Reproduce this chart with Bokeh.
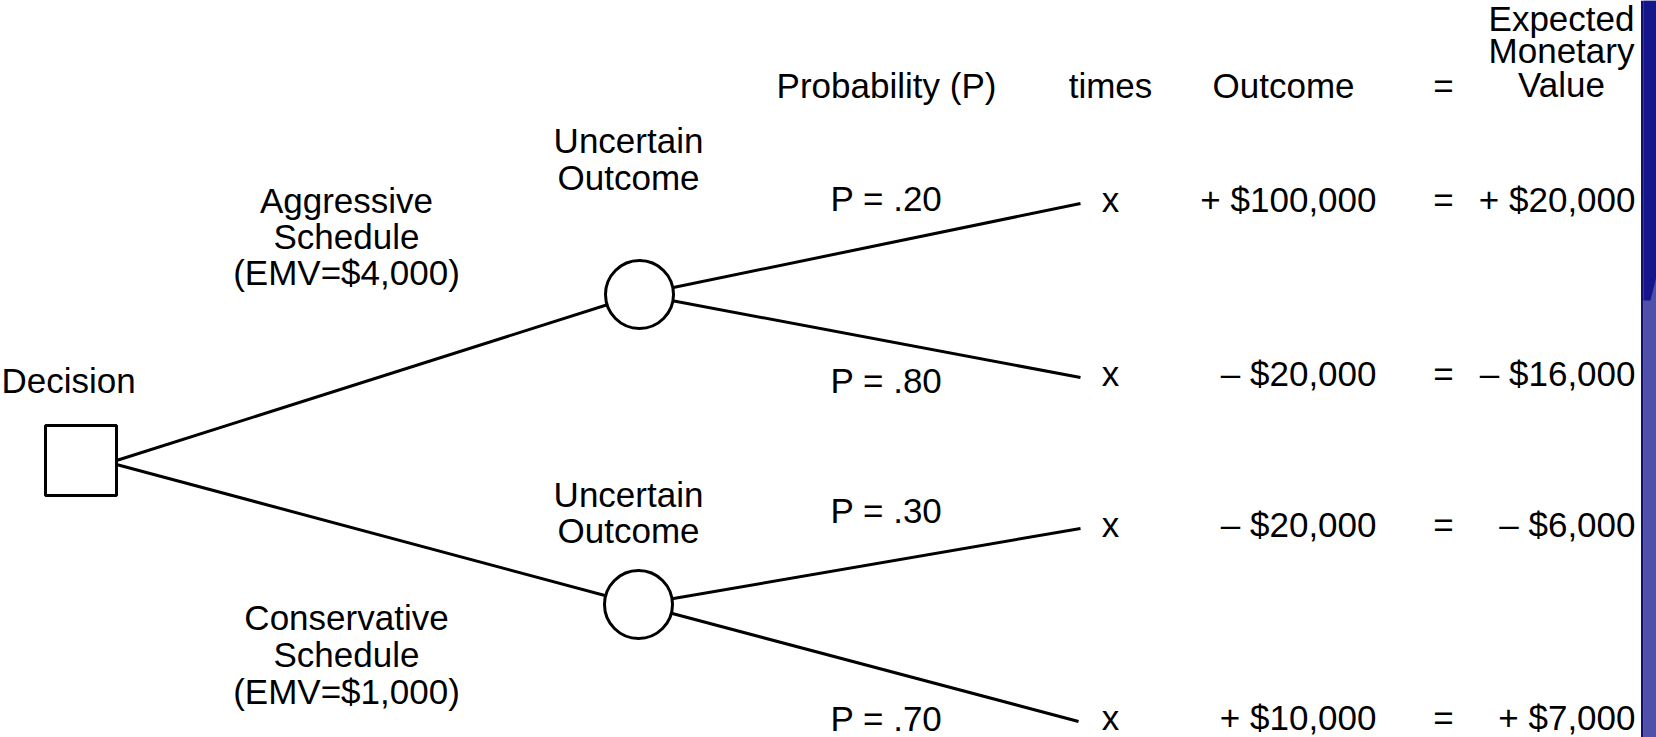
from bokeh.plotting import figure
from bokeh.models import Range1d, ColumnDataSource
from bokeh.core.properties import value
from bokeh.embed import file_html
from bokeh.resources import INLINE

# ---------------- data ----------------
alternatives = ["Aggressive", "Conservative"]
alt_emv = [4000, 1000]
probabilities = [0.20, 0.80, 0.30, 0.70]
outcomes = [100000, -20000, -20000, 10000]
expected_values = [20000, -16000, -6000, 7000]
header_labels = ["Probability (P)", "times", "Outcome", "="]
emv_header = ["Expected", "Monetary", "Value"]

# ---------------- layout (pixel grid of the reference, y downwards) ----------------
W, H = 1656, 737
FONT = value("Liberation Sans")
FS = "35px"
TXT_OFF = 12.0          # anchor shift so that the given y is the text baseline

sq_x, sq_y, sq_size = 80.5, 460, 71
node_x = [639, 638]
node_y = [294, 604]
node_r = 34
row_base = [211, 385, 536, 729]
end_x = [1080, 1080, 1080, 1078]
end_y = [b - 8 for b in row_base]
p_base = [210, 392, 522, 730]
col_p, col_times, col_out_r, col_eq, col_emv_r = 886, 1110, 1376, 1443, 1635
col_out_head = 1283
header_base = 97
emv_head_x = 1561
emv_head_base = [30, 62, 96]
alt_x = 346
alt_base = [[212, 248, 284], [629, 666, 703]]
unc_x = 628
unc_base = [[152, 189], [506, 542]]
dec_x, dec_base = 68, 392

p = figure(width=W, height=H, output_backend="svg", toolbar_location=None,
           x_range=Range1d(0, W), y_range=Range1d(H, 0),
           x_axis_type=None, y_axis_type=None, min_border=0,
           background_fill_color="white", border_fill_color="white")
p.outline_line_color = None
p.grid.visible = False

# slide edge (blue strip at the right)
p.quad(left=[1643], right=[1700], top=[0], bottom=[760], fill_color="#5050aa", line_color=None)
p.patch(x=[1643, 1700, 1700, 1650, 1643], y=[0, 0, 100, 300, 300], fill_color="#16168c", line_color=None)
p.quad(left=[1640.5], right=[1643], top=[0], bottom=[760], fill_color="#10106a", line_color=None)

# branches decision -> chance nodes
p.segment(x0=[sq_x + sq_size / 2] * 2, y0=[sq_y, sq_y + 4], x1=node_x, y1=node_y,
          line_color="black", line_width=3)
# branches chance nodes -> outcomes
nx = [node_x[0], node_x[0], node_x[1], node_x[1]]
ny = [node_y[0], node_y[0], node_y[1], node_y[1]]
p.segment(x0=nx, y0=ny, x1=end_x, y1=end_y, line_color="black", line_width=3)

# nodes
p.rect(x=[sq_x], y=[sq_y], width=sq_size, height=sq_size - 1, fill_color="white",
       line_color="black", line_width=3)
p.circle(x=node_x, y=node_y, radius=node_r, fill_color="white", line_color="black", line_width=3)


def txt(xs, ys, texts, align="center"):
    src = ColumnDataSource(dict(x=xs, y=[v - TXT_OFF for v in ys], t=texts))
    p.text(x="x", y="y", text="t", source=src, text_align=align, text_baseline="alphabetic",
           text_font=FONT, text_font_size=FS, text_color="black")


def money(v):
    return ("+ " if v > 0 else "\u2013 ") + "${:,}".format(abs(v))


# headers
txt([col_p, col_times, col_out_head, col_eq], [header_base] * 4, header_labels)
txt([emv_head_x] * 3, emv_head_base, emv_header)

# decision
txt([dec_x], [dec_base], ["Decision"])

# alternatives
for i, name in enumerate(alternatives):
    txt([alt_x] * 3, alt_base[i], [name, "Schedule", "(EMV=${:,})".format(alt_emv[i])])
    txt([unc_x] * 2, unc_base[i], ["Uncertain", "Outcome"])

# probabilities
txt([col_p] * 4, p_base, ["P = " + "{:.2f}".format(v)[1:] for v in probabilities])

# rows
txt([col_times] * 4, row_base, ["x"] * 4)
txt([col_out_r] * 4, row_base, [money(v) for v in outcomes], align="right")
txt([col_eq] * 4, row_base, ["="] * 4)
txt([col_emv_r] * 4, row_base, [money(v) for v in expected_values], align="right")

open("out.html", "w").write(file_html(p, INLINE))
